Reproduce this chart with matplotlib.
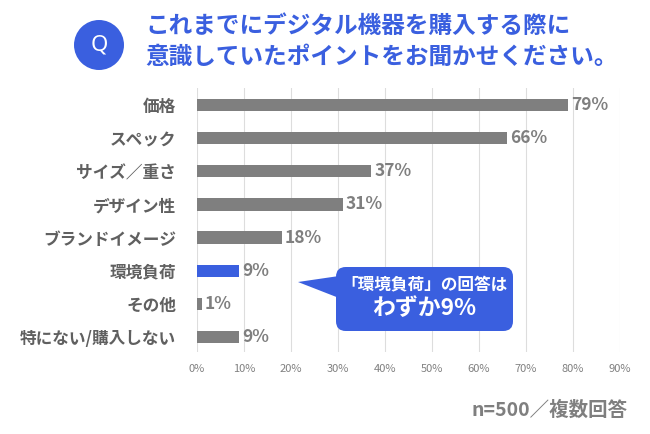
import matplotlib.pyplot as plt
from matplotlib.patches import Circle, FancyBboxPatch, Polygon

plt.rcParams['font.family'] = ['Noto Sans CJK JP', 'DejaVu Sans']

labels = ['価格', 'スペック', 'サイズ／重さ', 'デザイン性', 'ブランドイメージ',
          '環境負荷', 'その他', '特にない/購入しない']
values = [79, 66, 37, 31, 18, 9, 1, 9]
highlight = '環境負荷'
xticks = [0, 10, 20, 30, 40, 50, 60, 70, 80, 90]

blue = '#3A5FDF'
gray = '#7F7F7F'
text_gray = '#606060'

fig = plt.figure(figsize=(6.5, 4.34), dpi=100)
W, H = 650, 434

def px(x, y):
    # pixel coords from top-left -> figure fraction
    return x / W, 1 - y / H

# axes placed in pixel terms: x 197..620, y 88..352 (from top)
ax = fig.add_axes([197 / W, 1 - 352 / H, (620 - 197) / W, (352 - 88) / H])
colors = [blue if l == highlight else gray for l in labels]
y = list(range(len(labels)))
ax.barh(y, values, height=0.37, color=colors, zorder=3)
for yi, v in zip(y, values):
    ax.text(v + 0.7, yi, f'{v}%', va='center', ha='left', fontsize=12.5,
            fontweight='bold', color=gray)

ax.set_xlim(0, 90)
ax.set_ylim(len(labels) - 0.55, -0.51)
ax.set_xticks(xticks)
ax.set_xticklabels([f'{t}%' for t in xticks], fontsize=8, color='#808080')
ax.tick_params(axis='both', length=0)
ax.tick_params(axis='x', pad=9)
ax.set_yticks(y)
ax.set_yticklabels(labels, fontsize=12, fontweight='bold', color=text_gray)
ax.tick_params(axis='y', pad=15)
ax.grid(axis='x', color='#DDDDDD', linewidth=0.8, zorder=0)
for s in ax.spines.values():
    s.set_visible(False)

# title block
fig.patches.append(Circle((0.99, (H - 45) / 100), 0.25, transform=fig.dpi_scale_trans,
                          facecolor=blue, edgecolor='none'))
fig.text(*px(99, 45), 'Q', ha='center', va='center', fontsize=16,
         color='white', family=['Noto Sans', 'DejaVu Sans'])
fig.text(*px(145, 26), 'これまでにデジタル機器を購入する際に', ha='left',
         va='center', fontsize=17, fontweight='bold', color=blue)
fig.text(*px(145, 57), '意識していたポイントをお聞かせください。', ha='left',
         va='center', fontsize=17, fontweight='bold', color=blue)

# callout
x0, x1, y0, y1 = 336, 513, 267, 331
box = FancyBboxPatch((x0 / W, 1 - y1 / H), (x1 - x0) / W, (y1 - y0) / H,
                     boxstyle='round,pad=0,rounding_size=0.015',
                     transform=fig.transFigure, facecolor=blue, edgecolor='none',
                     mutation_aspect=W / H)
fig.patches.append(box)
fig.patches.append(Polygon([px(298, 282), px(x0 + 3, 276), px(x0 + 3, 298)],
                           transform=fig.transFigure, facecolor=blue, edgecolor='none'))
fig.text(*px((x0 + x1) / 2, 284), '「環境負荷」の回答は', ha='center', va='center',
         fontsize=12, fontweight='bold', color='white')
fig.text(*px((x0 + x1) / 2, 309), 'わずか9%', ha='center', va='center',
         fontsize=16.5, fontweight='bold', color='white')

fig.text(*px(628, 410), 'n=500／複数回答', ha='right', va='center',
         fontsize=14, fontweight='bold', color=gray)

fig.savefig('out.png', dpi=100)
